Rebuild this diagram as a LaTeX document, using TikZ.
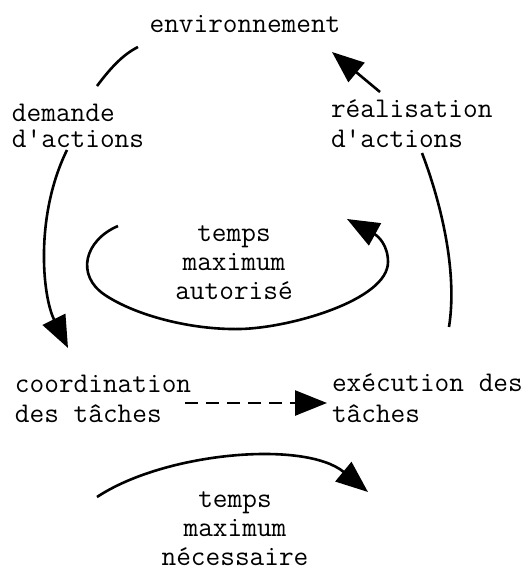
\documentclass[tikz,border=0pt]{standalone}
\usepackage{fontspec}
\usetikzlibrary{arrows.meta}
\newcommand{\mylines}[3]{\ttfamily\fontsize{28.5}{#2}\selectfont\begin{tabular}[t]{@{}#1@{}}#3\end{tabular}}
\begin{document}
\begin{tikzpicture}[x=1pt,y=-1pt,
  lbl/.style={inner sep=0pt, outer sep=0pt, font=\ttfamily\fontsize{28.5}{29}\selectfont},
  conn/.style={line width=2.6pt},
  bigtip/.style={-{Triangle[length=32pt,width=25pt]}}]
\useasboundingbox (0,0) rectangle (531,574);
% texts
\node[lbl, anchor=base] (env) at (245,32) {environnement};
\node[lbl, anchor=base west] (dem) at (12,121) {\mylines{l}{26}{demande\\d'actions}};
\node[lbl, anchor=base west] (real) at (331,117) {\mylines{l}{30}{réalisation\\d'actions}};
\node[lbl, anchor=base] (tma) at (234,241) {\mylines{c}{29}{temps\\maximum\\autorisé}};
\node[lbl, anchor=base west] (coord) at (15,392) {\mylines{l}{30}{coordination\\des tâches}};
\node[lbl, anchor=base west] (exec) at (332,391) {\mylines{l}{31}{exécution des\\tâches}};
\node[lbl, anchor=base] (tmn) at (235,507) {\mylines{c}{29}{temps\\maximum\\nécessaire}};
% connector end points
\coordinate (demTop) at (97,86);
\coordinate (envL) at (138,47);
\coordinate (realTop) at (380,92);
\coordinate (envR) at (332,52);
\coordinate (demBot) at (67,150);
\coordinate (coordTop) at (68,348);
\coordinate (realBot) at (422,153);
\coordinate (execTop) at (449,327);
\coordinate (loopS) at (118,226);
\coordinate (loopE) at (347,219);
\coordinate (coordR) at (185,403);
\coordinate (execL) at (327,403);
\coordinate (arcS) at (97,497);
\coordinate (arcE) at (368,492);
% connectors
\draw[conn] (demTop) .. controls (112,66) and (124,54) .. (envL);
\draw[conn, bigtip] (realTop) -- (envR);
\draw[conn, bigtip] (demBot) .. controls (35,215) and (42,295) .. (coordTop);
\draw[conn] (realBot) .. controls (440,200) and (458,270) .. (execTop);
\draw[conn, bigtip] (loopS) .. controls (85,240) and (75,275) .. (105,295)
   .. controls (135,315) and (190,330) .. (240,329)
   .. controls (290,328) and (388,300) .. (388,262)
   .. controls (388,245) and (378,236) .. (loopE);
\draw[conn, dash pattern=on 13pt off 8pt, bigtip] (coordR) -- (execL);
\draw[conn, bigtip] (arcS) .. controls (165,452) and (305,440) .. (arcE);
\end{tikzpicture}
\end{document}
